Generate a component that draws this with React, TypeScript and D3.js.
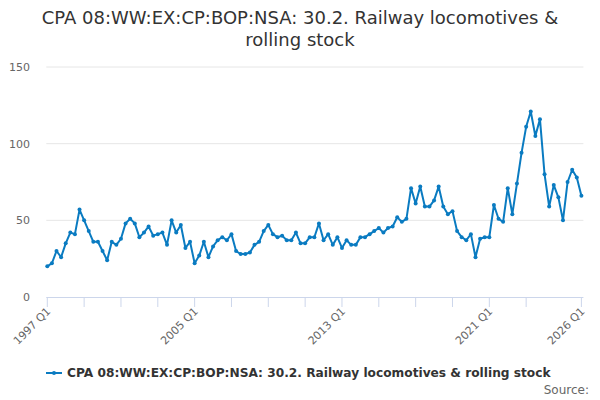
import React from "react";
import * as d3 from "d3";

const titleLines = ["CPA 08:WW:EX:CP:BOP:NSA: 30.2. Railway locomotives &", "rolling stock"];
const seriesName = "CPA 08:WW:EX:CP:BOP:NSA: 30.2. Railway locomotives & rolling stock";
const startYear = 1997;
const values = [
  20, 22, 30, 26, 35, 42, 41, 57, 50, 43, 36, 36, 30, 24, 36, 34, 38, 48, 51, 48,
  39, 42, 46, 40, 41, 42, 34, 50, 42, 47, 32, 36, 22, 27, 36, 26, 33, 37, 39, 37,
  41, 30, 28, 28, 29, 34, 36, 43, 47, 41, 39, 40, 37, 37, 42, 35, 35, 39, 39, 48,
  37, 41, 34, 39, 32, 37, 34, 34, 39, 39, 41, 43, 45, 42, 45, 46, 52, 49, 51, 71,
  61, 72, 59, 59, 63, 72, 59, 54, 56, 43, 39, 37, 41, 26, 38, 39, 39, 60, 51, 49,
  71, 54, 74, 94, 111, 121, 105, 116, 80, 59, 73, 65, 50, 75, 83, 78, 66,
];
const categories = values.map((_, i) => `${startYear + Math.floor(i / 4)} Q${(i % 4) + 1}`);
const tickLabels = ["1997 Q1", "2005 Q1", "2013 Q1", "2021 Q1", "2026 Q1"];
const tickCategories = [
  "1997 Q1", "1999 Q1", "2001 Q1", "2003 Q1", "2005 Q1", "2007 Q1", "2009 Q1", "2011 Q1",
  "2013 Q1", "2015 Q1", "2017 Q1", "2019 Q1", "2021 Q1", "2023 Q1", "2026 Q1",
];
const yTicks = [0, 50, 100, 150];

const W = 600;
const H = 400;
const left = 47.3;
const right = 581.4;
const top = 67;
const bottom = 297;
const color = "#0a7bc1";
const font = "'DejaVu Sans', Verdana, sans-serif";

export default function App() {
  const x = d3.scaleLinear().domain([0, categories.length - 1]).range([left, right]);
  const y = d3.scaleLinear().domain([0, 150]).range([bottom, top]);
  const line = d3
    .line<number>()
    .x((_, i) => x(i))
    .y((d) => y(d));
  const idx = (c: string) => categories.indexOf(c);

  return (
    <svg
      width={W}
      height={H}
      style={{ position: "absolute", left: 0, top: 0, background: "#fff" }}
      fontFamily={font}
    >
      <rect width={W} height={H} fill="#fff" />
      {titleLines.map((t, i) => (
        <text key={i} x={300} y={24 + i * 22} textAnchor="middle" fontSize={18} fill="#333">
          {t}
        </text>
      ))}
      {yTicks.map((t) => (
        <g key={t}>
          {t > 0 && <line x1={left - 1} x2={right + 2} y1={y(t)} y2={y(t)} stroke="#e6e6e6" strokeWidth={1} />}
          <text x={30} y={y(t) + 4} textAnchor="end" fontSize={11} fill="#666">
            {t}
          </text>
        </g>
      ))}
      <line x1={left - 1} x2={right + 2} y1={bottom + 0.5} y2={bottom + 0.5} stroke="#ccd6eb" strokeWidth={1} />
      {tickCategories.map((c) => (
        <line key={c} x1={x(idx(c))} x2={x(idx(c))} y1={bottom} y2={bottom + 10} stroke="#ccd6eb" strokeWidth={1} />
      ))}
      {tickLabels.map((c) => (
        <text
          key={c}
          transform={`translate(${x(idx(c)) + 4},${bottom + 15}) rotate(-45)`}
          textAnchor="end"
          fontSize={11}
          fill="#666"
        >
          {c}
        </text>
      ))}
      <path d={line(values) || ""} fill="none" stroke={color} strokeWidth={2} strokeLinejoin="round" />
      {values.map((v, i) => (
        <circle key={i} cx={x(i)} cy={y(v)} r={2} fill={color} />
      ))}
      <line x1={46} x2={62} y1={373} y2={373} stroke={color} strokeWidth={2} />
      <circle cx={54} cy={373} r={2} fill={color} />
      <text x={67} y={377} fontSize={12.2} fontWeight="bold" fill="#333">
        {seriesName}
      </text>
      <text x={589} y={394} textAnchor="end" fontSize={12} fill="#666">
        Source:
      </text>
    </svg>
  );
}
